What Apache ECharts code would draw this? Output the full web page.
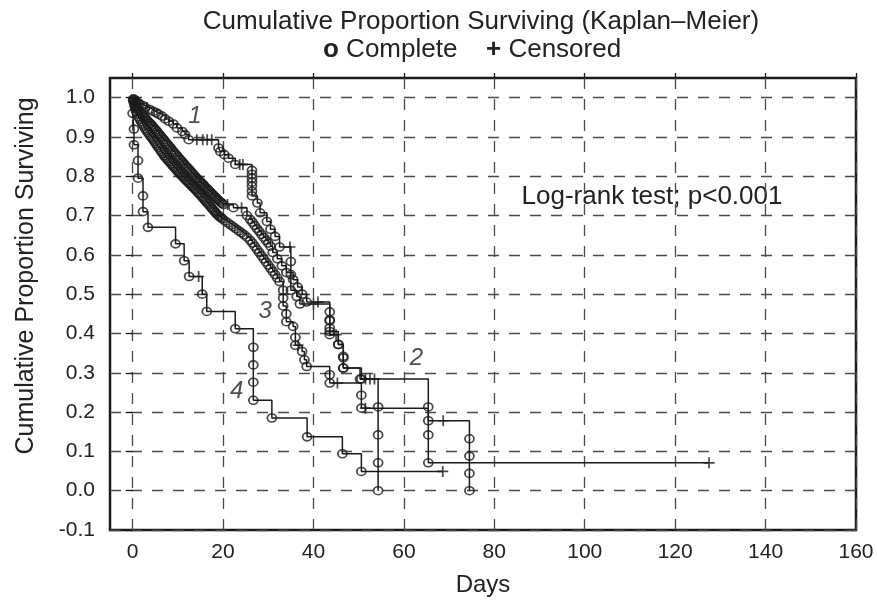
<!DOCTYPE html>
<html><head><meta charset="utf-8">
<script src="https://cdn.jsdelivr.net/npm/echarts@6/dist/echarts.min.js"></script>
<style>html,body{margin:0;padding:0;background:#fff}#c{width:877px;height:603px}</style>
</head><body><div id="c"></div>
<script>
// ---- tick labels ----
const xTicks = [0, 20, 40, 60, 80, 100, 120, 140, 160];
const yTicks = [-0.1, 0.0, 0.1, 0.2, 0.3, 0.4, 0.5, 0.6, 0.7, 0.8, 0.9, 1.0];

// ---- group 1: complete (event) times / survival after event, censored times ----
const g1EventTime = [0.2, 0.5, 0.8, 1.2, 1.5, 2.2, 2.8, 3.8, 4.5, 5.2, 5.7, 6.5, 7.2, 8, 9, 9.8, 11, 11.6, 12.4, 19, 19.4, 20.3, 21.2, 22.7, 26.4, 26.4, 26.4, 26.4, 26.4, 26.4, 26.4, 27.6, 28.2, 29.7, 30.5, 31.5, 32.5, 35, 35, 35, 36.3, 37, 43.6, 43.6, 43.6, 45.5, 46.6, 46.6, 50.6, 54.3, 54.3, 54.3, 54.3];
const g1EventSurv = [0.997, 0.994, 0.99, 0.987, 0.984, 0.98, 0.975, 0.97, 0.965, 0.962, 0.958, 0.953, 0.946, 0.94, 0.933, 0.923, 0.914, 0.906, 0.893, 0.872, 0.863, 0.855, 0.846, 0.83, 0.815, 0.805, 0.795, 0.785, 0.775, 0.762, 0.75, 0.732, 0.707, 0.685, 0.665, 0.647, 0.62, 0.583, 0.55, 0.51, 0.494, 0.475, 0.435, 0.414, 0.397, 0.372, 0.342, 0.312, 0.284, 0.213, 0.142, 0.071, 0];
const g1CensTime = [3.2, 14.2, 15.5, 16.5, 17.5, 23.7, 24.4, 34.8, 40, 45, 51.5, 52.5, 53.5];

// ---- group 2 ----
const g2EventTime = [0.1, 0.3, 0.5, 0.7, 0.9, 1.2, 1.5, 1.8, 2.1, 2.4, 2.7, 3, 3.3, 3.6, 3.9, 4.2, 4.5, 4.8, 5.1, 5.4, 5.7, 6, 6.3, 6.6, 6.9, 7.2, 7.5, 7.8, 8.1, 8.4, 8.7, 9, 9.3, 9.6, 9.9, 10.2, 10.5, 10.8, 11.1, 11.4, 11.7, 12, 12.3, 12.6, 12.9, 13.2, 13.5, 13.8, 14.1, 14.4, 14.7, 15, 15.3, 15.6, 15.9, 16.2, 16.5, 16.8, 17.1, 17.4, 17.7, 18, 18.3, 18.6, 18.9, 19.2, 19.5, 19.8, 20.1, 22.3, 25.3, 26, 26.5, 27, 27.5, 28, 28.5, 29, 29.5, 30, 30.5, 31, 32, 33, 34, 35.5, 36.5, 37.5, 38.5, 43.6, 43.6, 43.6, 45.5, 46.6, 46.6, 50.3, 65.4, 65.4, 65.4];
const g2EventSurv = [0.995, 0.99, 0.985, 0.98, 0.975, 0.971, 0.967, 0.962, 0.957, 0.953, 0.949, 0.945, 0.941, 0.937, 0.934, 0.93, 0.926, 0.922, 0.918, 0.914, 0.909, 0.905, 0.901, 0.897, 0.893, 0.888, 0.884, 0.88, 0.876, 0.872, 0.867, 0.863, 0.859, 0.855, 0.851, 0.847, 0.843, 0.839, 0.835, 0.831, 0.827, 0.823, 0.82, 0.816, 0.812, 0.808, 0.804, 0.8, 0.796, 0.793, 0.789, 0.786, 0.782, 0.779, 0.775, 0.771, 0.768, 0.764, 0.761, 0.757, 0.754, 0.75, 0.747, 0.743, 0.74, 0.737, 0.734, 0.731, 0.728, 0.72, 0.7, 0.69, 0.683, 0.675, 0.667, 0.66, 0.652, 0.645, 0.637, 0.63, 0.622, 0.606, 0.59, 0.572, 0.555, 0.537, 0.518, 0.5, 0.48, 0.455, 0.432, 0.405, 0.372, 0.338, 0.312, 0.284, 0.213, 0.142, 0.071];
const g2CensTime = [21, 24.1, 41, 127.5];

// ---- group 3 ----
const g3EventTime = [0.2, 0.4, 0.6, 0.8, 1, 1.3, 1.6, 1.9, 2.2, 2.5, 2.8, 3.1, 3.4, 3.7, 4, 4.3, 4.6, 4.9, 5.2, 5.5, 5.8, 6.1, 6.4, 6.7, 7, 7.3, 7.6, 7.9, 8.2, 8.5, 8.8, 9.1, 9.4, 9.7, 10, 10.3, 10.6, 10.9, 11.2, 11.5, 11.8, 12.1, 12.4, 12.7, 13, 13.3, 13.6, 13.9, 14.2, 14.5, 14.8, 15.1, 15.4, 15.7, 16, 16.3, 16.6, 16.9, 17.2, 17.5, 17.8, 18.1, 18.4, 18.7, 19, 19.3, 19.6, 19.9, 20.5, 21.1, 21.7, 22.3, 22.9, 23.5, 24.1, 24.7, 25.3, 26, 26.5, 27, 27.5, 28, 28.5, 29, 29.5, 30, 30.5, 31, 31.5, 32, 32.5, 33.3, 33.3, 33.3, 34, 34, 35.5, 36, 36, 37.5, 38, 38.5, 43.6, 43.6, 50.6, 50.6, 65.4, 74.5, 74.5, 74.5, 74.5];
const g3EventSurv = [0.99, 0.98, 0.972, 0.965, 0.958, 0.951, 0.945, 0.939, 0.933, 0.927, 0.921, 0.916, 0.911, 0.906, 0.901, 0.897, 0.892, 0.887, 0.882, 0.877, 0.872, 0.867, 0.862, 0.857, 0.852, 0.848, 0.844, 0.84, 0.836, 0.832, 0.828, 0.824, 0.82, 0.816, 0.812, 0.808, 0.805, 0.801, 0.798, 0.794, 0.79, 0.787, 0.783, 0.78, 0.776, 0.773, 0.769, 0.766, 0.762, 0.758, 0.755, 0.751, 0.747, 0.743, 0.739, 0.735, 0.731, 0.727, 0.723, 0.719, 0.715, 0.711, 0.707, 0.703, 0.7, 0.697, 0.694, 0.691, 0.686, 0.681, 0.676, 0.671, 0.666, 0.661, 0.656, 0.651, 0.645, 0.637, 0.63, 0.622, 0.614, 0.606, 0.598, 0.59, 0.582, 0.574, 0.566, 0.558, 0.55, 0.541, 0.532, 0.51, 0.49, 0.47, 0.45, 0.43, 0.418, 0.39, 0.37, 0.354, 0.333, 0.316, 0.295, 0.274, 0.243, 0.21, 0.178, 0.132, 0.088, 0.044, 0];
const g3CensTime = [36.6, 45.3, 51.5, 68.7];

// ---- group 4 ----
const g4EventTime = [0, 0.3, 0.3, 1.2, 1.2, 2.3, 2.3, 3.4, 9.5, 11.4, 12.5, 15.4, 16.4, 22.7, 26.7, 26.7, 26.7, 26.7, 30.8, 38.6, 46.4, 50.6];
const g4EventSurv = [0.96, 0.92, 0.88, 0.84, 0.795, 0.75, 0.71, 0.67, 0.628, 0.585, 0.545, 0.5, 0.456, 0.412, 0.365, 0.32, 0.276, 0.23, 0.185, 0.137, 0.094, 0.049];
const g4CensTime = [14.6, 68.6];

const groups = [
  [g1EventTime, g1EventSurv, g1CensTime],
  [g2EventTime, g2EventSurv, g2CensTime],
  [g3EventTime, g3EventSurv, g3CensTime],
  [g4EventTime, g4EventSurv, g4CensTime]
];

function buildCurve(et, es, ct) {
  const d = [[0, 1]];
  for (let i = 0; i < et.length; i++) d.push([et[i], es[i]]);
  const last = ct.length ? ct[ct.length - 1] : 0;
  if (last > et[et.length - 1]) d.push([last, es[es.length - 1]]);
  return d;
}
function survAt(et, es, t) {
  let s = 1;
  for (let i = 0; i < et.length; i++) if (et[i] <= t) s = es[i];
  return s;
}

const FONT = '"Liberation Sans", Arial, sans-serif';
const INK = '#1a1a1a';
const TXT = '#222';

const series = [];
groups.forEach(function (g) {
  series.push({
    type: 'line', step: 'end', data: buildCurve(g[0], g[1], g[2]),
    symbol: 'none', lineStyle: { color: INK, width: 1.5 }, z: 3, silent: true
  });
});
const circles = [], crosses = [];
groups.forEach(function (g) {
  for (let i = 0; i < g[0].length; i++) circles.push([g[0][i], g[1][i]]);
  g[2].forEach(function (t) { crosses.push([t, survAt(g[0], g[1], t)]); });
});
series.push({
  type: 'scatter', data: circles, symbol: 'circle', symbolSize: [9, 8],
  itemStyle: { color: 'rgba(0,0,0,0)', borderColor: INK, borderWidth: 1.7 }, z: 4, silent: true
});
series.push({
  type: 'scatter', data: crosses, symbol: 'path://M5,0L5,10M0,5L10,5', symbolSize: 11,
  itemStyle: { color: 'rgba(0,0,0,0)', borderColor: INK, borderWidth: 1.7 }, z: 4, silent: true
});
series.push({
  type: 'scatter', symbolSize: 0, z: 5, silent: true,
  label: { show: true, position: 'inside', formatter: function (p) { return p.name; },
    fontFamily: FONT, fontSize: 24, fontStyle: 'italic', color: TXT },
  data: [
    { name: '1', value: [13.8, 0.952] },
    { name: '2', value: [62.8, 0.338] },
    { name: '3', value: [29.3, 0.456] },
    { name: '4', value: [23.0, 0.253] }
  ]
});

const gridLine = { show: true, lineStyle: { color: '#4a4a4a', width: 1.3, type: [11, 10] } };

const option = {
  animation: false,
  backgroundColor: '#ffffff',
  grid: { left: 110, right: 21, top: 78, bottom: 73, show: true, borderColor: INK, borderWidth: 2.5, backgroundColor: 'rgba(0,0,0,0)' },
  xAxis: [
    { type: 'value', min: -5, max: 160, position: 'bottom',
      axisLine: { show: false },
      axisTick: { show: false, customValues: xTicks },
      axisLabel: { customValues: xTicks, color: TXT, fontSize: 21, fontFamily: FONT, margin: 12 },
      splitLine: gridLine },
    { type: 'value', min: -5, max: 160, position: 'top',
      axisLine: { show: false },
      axisTick: { show: true, inside: false, length: 5, customValues: xTicks, lineStyle: { color: INK, width: 1.3 } },
      axisLabel: { show: false }, splitLine: { show: false } }
  ],
  yAxis: [
    { type: 'value', min: -0.1, max: 1.05, position: 'left',
      axisLine: { show: false },
      axisTick: { show: true, inside: false, length: 7, customValues: yTicks, lineStyle: { color: INK, width: 1.3 } },
      axisLabel: { customValues: yTicks, formatter: function (v) { return v.toFixed(1); }, color: TXT, fontSize: 21, fontFamily: FONT, margin: 15 },
      splitLine: gridLine }
  ],
  graphic: [
    { type: 'text', x: 481, y: 22, style: { text: 'Cumulative Proportion Surviving (Kaplan\u2013Meier)', fontFamily: FONT, fontSize: 26, fill: TXT, align: 'center', verticalAlign: 'middle' } },
    { type: 'text', x: 323, y: 50, style: { text: '{b|o} Complete', fontFamily: FONT, fontSize: 26, fill: TXT, align: 'left', verticalAlign: 'middle',
        rich: { b: { fontWeight: 'bold', fontFamily: FONT, fontSize: 26, fill: TXT } } } },
    { type: 'text', x: 486, y: 50, style: { text: '{b|+} Censored', fontFamily: FONT, fontSize: 26, fill: TXT, align: 'left', verticalAlign: 'middle',
        rich: { b: { fontWeight: 'bold', fontFamily: FONT, fontSize: 26, fill: TXT } } } },
    { type: 'text', x: 26, y: 276, rotation: Math.PI / 2, style: { text: 'Cumulative Proportion Surviving', fontFamily: FONT, fontSize: 25, fill: TXT, align: 'center', verticalAlign: 'middle' } },
    { type: 'text', x: 483, y: 585, style: { text: 'Days', fontFamily: FONT, fontSize: 24, fill: TXT, align: 'center', verticalAlign: 'middle' } },
    { type: 'text', x: 652, y: 197, style: { text: 'Log-rank test; p<0.001', fontFamily: FONT, fontSize: 26, fill: TXT, align: 'center', verticalAlign: 'middle' } }
  ],
  series: series
};
const chart = echarts.init(document.getElementById('c'), null, { renderer: 'canvas' });
chart.setOption(option);
</script>
</body></html>
